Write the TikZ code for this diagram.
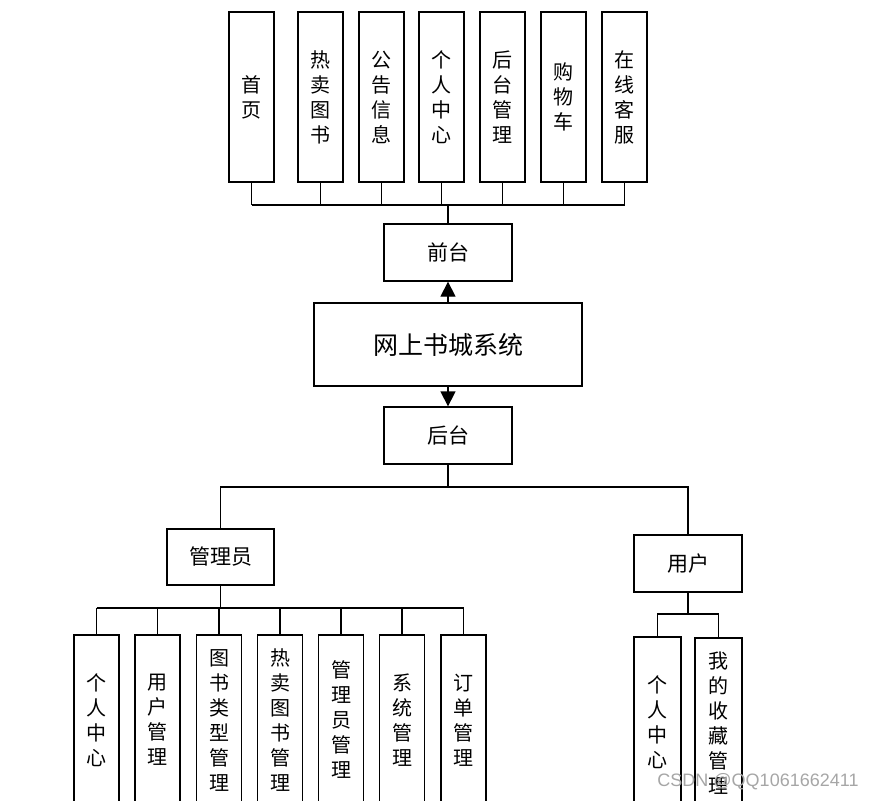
\documentclass[tikz,border=0pt]{standalone}
\usepackage{fontspec}
\setmainfont{Noto Sans CJK SC}
\newfontfamily\markfont{Liberation Sans}
\usetikzlibrary{arrows.meta}
\begin{document}
\begin{tikzpicture}[x=1pt,y=-1pt,line width=1.3pt,
    tallbox/.style={draw,fill=white,minimum width=45pt,minimum height=170pt,inner sep=0pt,
      align=center,font=\fontsize{20}{25}\selectfont},
    midbox/.style={draw,fill=white,minimum width=128pt,minimum height=57pt,inner sep=0pt,
      font=\fontsize{21}{25}\selectfont},
    rolebox/.style={draw,fill=white,minimum width=107pt,minimum height=56pt,inner sep=0pt,
      font=\fontsize{21}{25}\selectfont},
    bigarrow/.style={-{Triangle[width=15pt,length=15pt]}}]
    \useasboundingbox (0,0) rectangle (872,800);
    \clip (0,0) rectangle (872,800);

    % front end
    \node[tallbox] (t1) at (251.5,97) {首\\页};
    \node[tallbox] (t2) at (320.5,97) {热\\卖\\图\\书};
    \node[tallbox] (t3) at (381.5,97) {公\\告\\信\\息};
    \node[tallbox] (t4) at (441.5,97) {个\\人\\中\\心};
    \node[tallbox] (t5) at (502.5,97) {后\\台\\管\\理};
    \node[tallbox] (t6) at (563.5,97) {购\\物\\车};
    \node[tallbox] (t7) at (624.5,97) {在\\线\\客\\服};
    \coordinate (fbus) at (448,205);
    \node[midbox] (front) at (448,252.5) {前台};

    \node[draw,fill=white,minimum width=268pt,minimum height=83pt,inner sep=0pt,
      font=\fontsize{25}{30}\selectfont] (sys) at (448,344.5) {网上书城系统};

    % back end
    \node[midbox] (back) at (448,435.5) {后台};
    \coordinate (bbus) at (448,487);
    \node[rolebox] (admin) at (220.5,557) {管理员};
    \node[rolebox,minimum width=108pt,minimum height=57pt] (user) at (688,563.5) {用户};

    \coordinate (abus) at (220.5,608);
    \node[tallbox] (a1) at (96.5,720) {个\\人\\中\\心};
    \node[tallbox] (a2) at (157.5,720) {用\\户\\管\\理};
    \node[tallbox] (a3) at (219,720) {图\\书\\类\\型\\管\\理};
    \node[tallbox] (a4) at (280,720) {热\\卖\\图\\书\\管\\理};
    \node[tallbox] (a5) at (341,720) {管\\理\\员\\管\\理};
    \node[tallbox] (a6) at (402,720) {系\\统\\管\\理};
    \node[tallbox] (a7) at (463.5,720) {订\\单\\管\\理};

    \coordinate (ubus) at (688,614);
    \node[tallbox,minimum width=47pt] (u1) at (657.5,722) {个\\人\\中\\心};
    \node[tallbox,minimum width=47pt] (u2) at (718.5,723) {我\\的\\收\\藏\\管\\理};

    \foreach \n in {t1,t2,t3,t4,t5,t6,t7}
      \draw[-] (\n.south) -- (\n.south |- fbus);
    \draw[-] (t1.south |- fbus) -- (t7.south |- fbus);
    \draw[-] (fbus) -- (front.north);

    \draw[bigarrow] (sys.north) -- (front.south);
    \draw[bigarrow] (sys.south) -- (back.north);

    \draw[-] (back.south) -- (bbus);
    \draw[-] (admin.north) -- (admin.north |- bbus) -- (user.north |- bbus) -- (user.north);

    \draw[-] (admin.south) -- (abus);
    \foreach \n in {a1,a2,a3,a4,a5,a6,a7}
      \draw[-] (\n.north) -- (\n.north |- abus);
    \draw[-] (a1.north |- abus) -- (a7.north |- abus);

    \draw[-] (user.south) -- (ubus);
    \draw[-] (u1.north) -- (u1.north |- ubus) -- (u2.north |- ubus) -- (u2.north);

    % watermark
    \node[text=gray!70,font=\markfont\fontsize{18}{20}\selectfont,inner sep=0pt] (mark) at (758,782) {CSDN @QQ1061662411};
\end{tikzpicture}
\end{document}
